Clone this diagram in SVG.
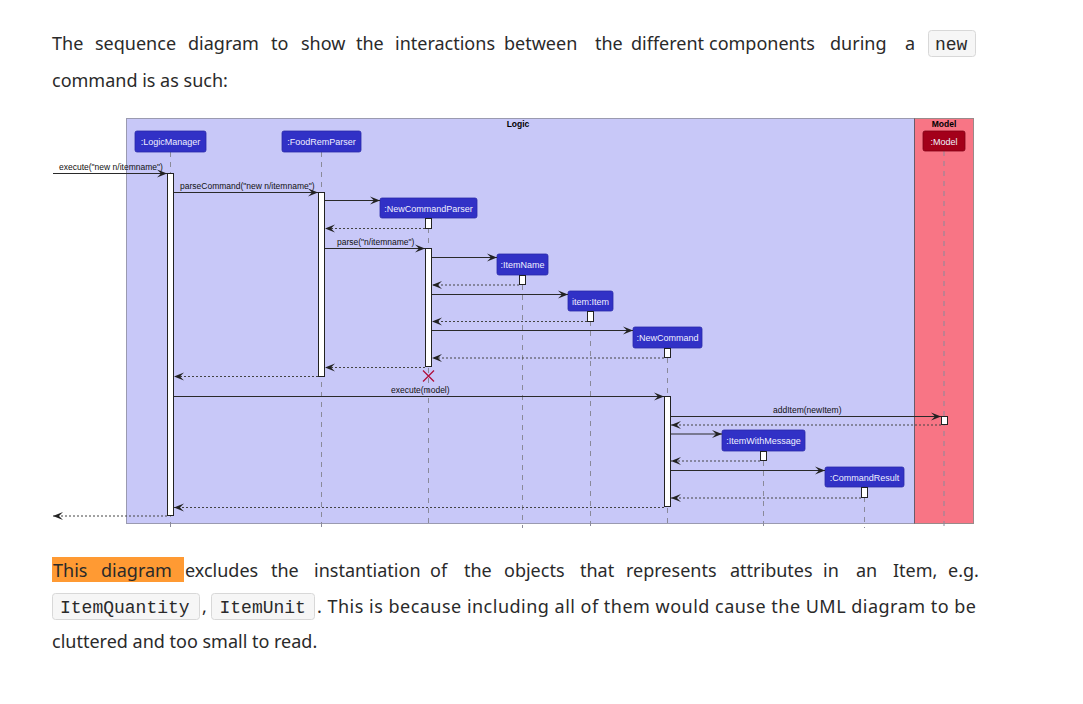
<svg xmlns="http://www.w3.org/2000/svg" width="1083" height="704" viewBox="0 0 1083 704">
<style>
.body{font-family:"Noto Sans","Open Sans",sans-serif;font-size:18px;fill:#2a2a2a}
.mono{font-family:"Liberation Mono","DejaVu Sans Mono",monospace;font-size:18px;fill:#2a2a2a}
.code{fill:#f6f6f6;stroke:#d8d8d8;stroke-width:1}
.part{fill:#3131C6;stroke:#2828a8;stroke-width:0.8}
.ptxt{font-family:"Liberation Sans",Arial,sans-serif;font-size:9px;fill:#f0f0ff;text-anchor:middle}
.mtxt{font-family:"Liberation Sans",Arial,sans-serif;font-size:8.5px;fill:#111}
.title{font-family:"Liberation Sans",Arial,sans-serif;font-size:8.5px;font-weight:bold;fill:#000;text-anchor:middle}
.life{stroke:#8a8a9a;stroke-width:1;stroke-dasharray:5,5;fill:none}
.act{fill:#ffffff;stroke:#222;stroke-width:1}
.msg{stroke:#2a2a2a;stroke-width:1;fill:none;marker-end:url(#ah)}
.ret{stroke:#444;stroke-width:1;stroke-dasharray:2,2;fill:none;marker-end:url(#ah)}
</style>
<defs>
<marker id="ah" viewBox="0 0 10 10" refX="10" refY="5" markerWidth="10" markerHeight="10" markerUnits="userSpaceOnUse" orient="auto">
<path d="M0,1 L10,5 L0,9 L4,5 Z" fill="#222"/>
</marker>
</defs>
<rect width="1083" height="704" fill="#ffffff"/>

<g id="para1">
<text class="body" y="50"><tspan x="52">The</tspan><tspan x="95">sequence</tspan><tspan x="188">diagram</tspan><tspan x="271">to</tspan><tspan x="301">show</tspan><tspan x="356">the</tspan><tspan x="395">interactions</tspan><tspan x="504">between</tspan><tspan x="595">the</tspan><tspan x="631">different</tspan><tspan x="709">components</tspan><tspan x="830">during</tspan><tspan x="905">a</tspan></text>
<rect class="code" x="928.5" y="30.5" width="47" height="26" rx="3"/>
<text class="mono" x="935" y="50">new</text>
<text class="body" x="52" y="87">command is as such:</text>
</g>

<g id="frame-logic">
<rect x="126.5" y="118.5" width="788" height="405" fill="#C8C8F8" stroke="#9a9ab0" stroke-width="1"/>
<text class="title" x="518" y="127">Logic</text>
</g>
<g id="frame-model">
<rect x="914.5" y="118.5" width="59" height="405" fill="#F87585" stroke="#9a8a8a" stroke-width="1"/>
<line x1="914.5" y1="118.5" x2="914.5" y2="523.5" stroke="#6a5a6a" stroke-width="1"/>
<text class="title" x="944" y="127">Model</text>
</g>

<g id="lifelines">
<line class="life" x1="170.5" y1="152" x2="170.5" y2="528"/>
<line class="life" x1="321.5" y1="152" x2="321.5" y2="528"/>
<line class="life" x1="428.5" y1="218" x2="428.5" y2="528"/>
<line class="life" x1="522.5" y1="275" x2="522.5" y2="528"/>
<line class="life" x1="590.5" y1="311" x2="590.5" y2="528"/>
<line class="life" x1="667.5" y1="348" x2="667.5" y2="528"/>
<line class="life" x1="763.5" y1="451" x2="763.5" y2="528"/>
<line class="life" x1="864.5" y1="487" x2="864.5" y2="528"/>
<line class="life" x1="944" y1="151" x2="944" y2="528" stroke="#a05060"/>
</g>

<g id="n-logicmanager">
<rect class="part" x="135" y="131" width="71" height="21" rx="2"/>
<text class="ptxt" x="170.5" y="145">:LogicManager</text>
<rect class="act" x="167.5" y="173.5" width="6" height="342"/>
</g>
<g id="n-foodremparser">
<rect class="part" x="282" y="131" width="79" height="21" rx="2"/>
<text class="ptxt" x="321.5" y="145">:FoodRemParser</text>
<rect class="act" x="318.5" y="192.5" width="6" height="184"/>
</g>
<g id="n-newcommandparser">
<rect class="part" x="380" y="198" width="97" height="20" rx="2"/>
<text class="ptxt" x="428.5" y="212">:NewCommandParser</text>
<rect class="act" x="425.5" y="218.5" width="6" height="10"/>
<rect class="act" x="425.5" y="248.5" width="6" height="118"/>
<path d="M423,370.5 L434,381.5 M434,370.5 L423,381.5" stroke="#B0103C" stroke-width="1.3" fill="none"/>
</g>
<g id="n-itemname">
<rect class="part" x="497" y="254" width="51" height="21" rx="2"/>
<text class="ptxt" x="522.5" y="268">:ItemName</text>
<rect class="act" x="519.5" y="275.5" width="6" height="9"/>
</g>
<g id="n-item">
<rect class="part" x="568" y="291" width="45" height="20" rx="2"/>
<text class="ptxt" x="590.5" y="305">item:Item</text>
<rect class="act" x="587.5" y="311.5" width="6" height="10"/>
</g>
<g id="n-newcommand">
<rect class="part" x="633" y="327" width="69" height="21" rx="2"/>
<text class="ptxt" x="667.5" y="341">:NewCommand</text>
<rect class="act" x="664.5" y="348.5" width="6" height="9"/>
<rect class="act" x="664.5" y="396.5" width="6" height="110"/>
</g>
<g id="n-itemwithmessage">
<rect class="part" x="722" y="430" width="83" height="21" rx="2"/>
<text class="ptxt" x="763.5" y="444">:ItemWithMessage</text>
<rect class="act" x="760.5" y="451.5" width="6" height="9"/>
</g>
<g id="n-commandresult">
<rect class="part" x="825" y="467" width="79" height="20" rx="2"/>
<text class="ptxt" x="864.5" y="481">:CommandResult</text>
<rect class="act" x="861.5" y="487.5" width="6" height="10"/>
</g>
<g id="n-model">
<rect x="923" y="131" width="42" height="20" rx="2" fill="#A3001A" stroke="#800014" stroke-width="0.8"/>
<text class="ptxt" x="944" y="145">:Model</text>
<rect class="act" x="941.5" y="416.5" width="6" height="8"/>
</g>

<g id="connectors">
<line class="msg" x1="53" y1="173.5" x2="167" y2="173.5"/>
<text class="mtxt" x="59" y="170">execute("new n/itemname")</text>
<line class="msg" x1="174" y1="192.5" x2="318" y2="192.5"/>
<text class="mtxt" x="180" y="189">parseCommand("new n/itemname")</text>
<line class="msg" x1="325" y1="200.5" x2="380" y2="200.5"/>
<line class="ret" x1="425" y1="228.5" x2="325" y2="228.5"/>
<line class="msg" x1="325" y1="248.5" x2="425" y2="248.5"/>
<text class="mtxt" x="337" y="245">parse("n/itemname")</text>
<line class="msg" x1="432" y1="257.5" x2="497" y2="257.5"/>
<line class="ret" x1="519" y1="285" x2="432" y2="285"/>
<line class="msg" x1="432" y1="294.5" x2="568" y2="294.5"/>
<line class="ret" x1="587" y1="321.5" x2="432" y2="321.5"/>
<line class="msg" x1="432" y1="330.5" x2="633" y2="330.5"/>
<line class="ret" x1="664" y1="358" x2="432" y2="358"/>
<line class="ret" x1="425" y1="367.5" x2="325" y2="367.5"/>
<line class="ret" x1="318" y1="376.5" x2="174" y2="376.5"/>
<line class="msg" x1="174" y1="396.5" x2="664" y2="396.5"/>
<text class="mtxt" x="391" y="393">execute(model)</text>
<line class="msg" x1="671" y1="416.5" x2="941" y2="416.5"/>
<text class="mtxt" x="773" y="413">addItem(newItem)</text>
<line class="ret" x1="941" y1="425" x2="671" y2="425"/>
<line class="msg" x1="671" y1="434" x2="722" y2="434"/>
<line class="ret" x1="760" y1="461" x2="671" y2="461"/>
<line class="msg" x1="671" y1="470.5" x2="825" y2="470.5"/>
<line class="ret" x1="861" y1="498" x2="671" y2="498"/>
<line class="ret" x1="664" y1="507.5" x2="174" y2="507.5"/>
<line class="ret" x1="167" y1="516" x2="53" y2="516"/>
</g>

<g id="para2">
<rect x="52" y="557" width="132" height="25" fill="#FF9A33"/>
<text class="body" y="577"><tspan x="53">This</tspan><tspan x="101">diagram</tspan><tspan x="185">excludes</tspan><tspan x="271">the</tspan><tspan x="314">instantiation</tspan><tspan x="430">of</tspan><tspan x="464">the</tspan><tspan x="504">objects</tspan><tspan x="580">that</tspan><tspan x="626">represents</tspan><tspan x="730">attributes</tspan><tspan x="823">in</tspan><tspan x="856">an</tspan><tspan x="893">Item,</tspan><tspan x="948">e.g.</tspan></text>
<rect class="code" x="52.5" y="593.5" width="147" height="26" rx="3"/>
<text class="mono" x="60" y="613">ItemQuantity</text>
<text class="body" x="202" y="613">,</text>
<rect class="code" x="211.5" y="593.5" width="103" height="26" rx="3"/>
<text class="mono" x="219.5" y="613">ItemUnit</text>
<text class="body" x="317" y="613" textLength="659" lengthAdjust="spacing">. This is because including all of them would cause the UML diagram to be</text>
<text class="body" x="52" y="648">cluttered and too small to read.</text>
</g>
</svg>
